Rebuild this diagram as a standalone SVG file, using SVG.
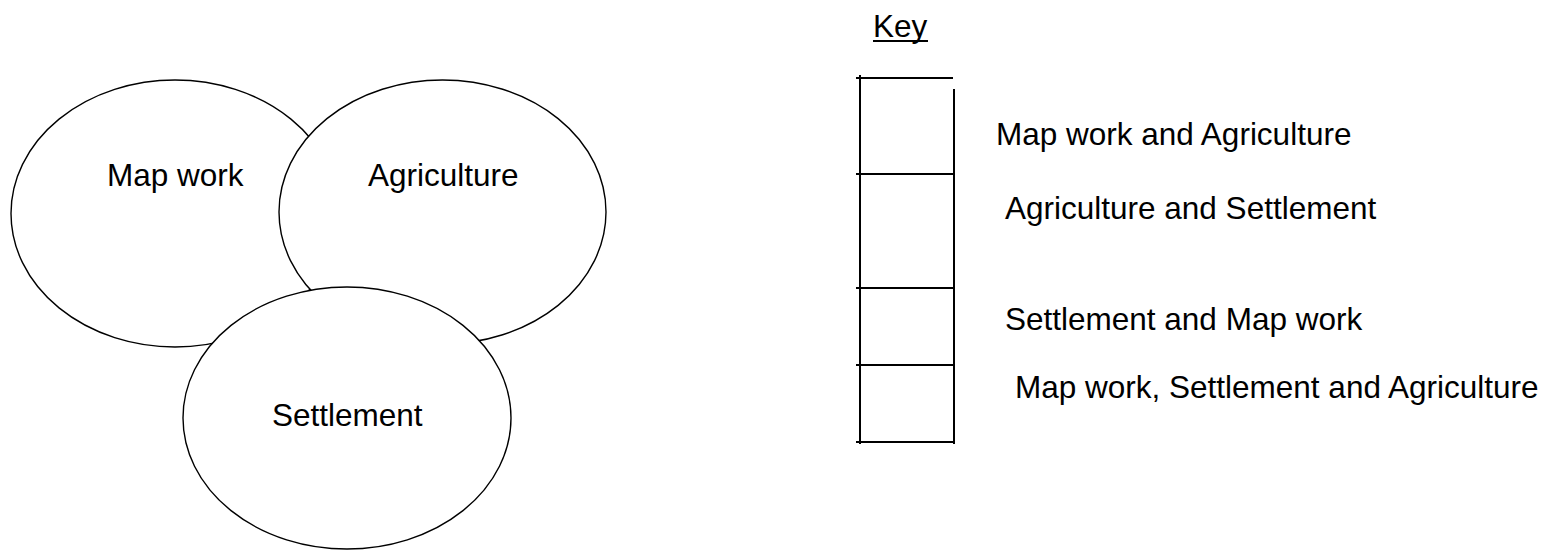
<svg xmlns="http://www.w3.org/2000/svg" width="1551" height="554" viewBox="0 0 1551 554">
  <style>
    .set { fill: #ffffff; stroke: #000000; stroke-width: 1.4; }
    .lbl { font-family: "Liberation Sans", Arial, sans-serif; font-size: 31.5px; fill: #000000; }
    .rule { stroke: #000000; stroke-width: 2; fill: none; }
  </style>
  <rect width="1551" height="554" fill="#ffffff"/>

  <!-- Venn sets, painted back to front -->
  <g id="map-work">
    <ellipse class="set" cx="175" cy="213.5" rx="164" ry="133.5"/>
    <text class="lbl" x="107" y="186">Map work</text>
  </g>
  <g id="agriculture">
    <ellipse class="set" cx="442.5" cy="212" rx="163.5" ry="132"/>
    <text class="lbl" x="368" y="186">Agriculture</text>
  </g>
  <g id="settlement">
    <ellipse class="set" cx="347" cy="418" rx="164" ry="131"/>
    <text class="lbl" x="272" y="426">Settlement</text>
  </g>

  <!-- Key -->
  <g id="key-title">
    <text class="lbl" x="873" y="37">Key</text>
    <line x1="873" y1="41" x2="928" y2="41" stroke="#000" stroke-width="2"/>
  </g>
  <g id="key-box">
    <line class="rule" x1="860" y1="75" x2="860" y2="444"/>
    <line class="rule" x1="954" y1="89" x2="954" y2="444"/>
    <line class="rule" x1="856" y1="78" x2="953" y2="78"/>
    <line class="rule" x1="856" y1="174" x2="954" y2="174"/>
    <line class="rule" x1="856" y1="288" x2="954" y2="288"/>
    <line class="rule" x1="856" y1="365" x2="954" y2="365"/>
    <line class="rule" x1="856" y1="442" x2="954" y2="442"/>
  </g>
  <g id="key-labels">
    <text class="lbl" x="996" y="145">Map work and Agriculture</text>
    <text class="lbl" x="1005" y="219">Agriculture and Settlement</text>
    <text class="lbl" x="1005" y="330">Settlement and Map work</text>
    <text class="lbl" x="1015" y="398">Map work, Settlement and Agriculture</text>
  </g>
</svg>
